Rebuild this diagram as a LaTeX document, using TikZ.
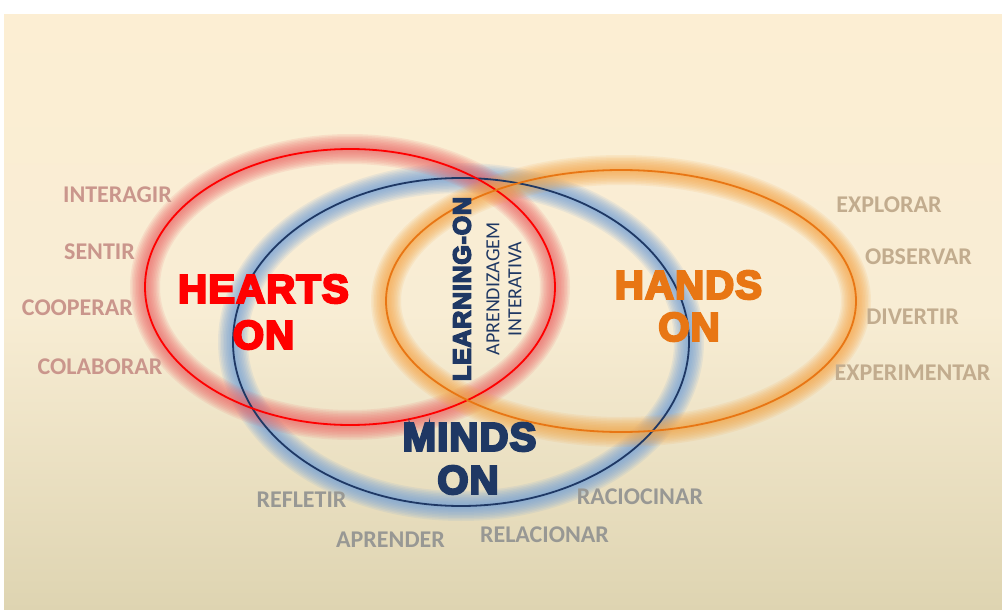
\documentclass[tikz,border=0pt]{standalone}
\usepackage{fontspec}
\setmainfont{Carlito}
\newfontfamily\heavy[FakeBold=6, LetterSpace=3]{Liberation Sans Bold}
\usetikzlibrary{calc}

\definecolor{bgtop}{RGB}{252,238,211}
\definecolor{bgmid}{RGB}{248,237,212}
\definecolor{bgbot}{RGB}{222,212,177}
\definecolor{heartred}{RGB}{255,0,0}
\definecolor{heartglow}{RGB}{236,100,100}
\definecolor{handorange}{RGB}{232,118,20}
\definecolor{handglow}{RGB}{245,165,70}
\definecolor{mindnavy}{RGB}{31,56,100}
\definecolor{mindglow}{RGB}{110,158,218}
\definecolor{wordrose}{RGB}{202,150,140}
\definecolor{wordtan}{RGB}{194,172,142}
\definecolor{wordgray}{RGB}{152,152,148}

\tikzset{
  bigword/.style={inner sep=0pt, font=\heavy\fontsize{40}{40}\selectfont},
  sideword/.style={inner sep=0pt, font=\bfseries\fontsize{24}{24}\selectfont},
  leftword/.style={sideword, text=wordrose},
  rightword/.style={sideword, text=wordtan},
  bottomword/.style={sideword, text=wordgray},
}

% soft halo around an ellipse: stacked translucent strokes
\newcommand{\halo}[4]{% centre, x radius, y radius, colour
  \foreach \w in {3,6,9,12,15,18,21,24,27,30}{
    \draw[#4, line width=\w pt, opacity=0.12] #1 ellipse [x radius=#2, y radius=#3];
  }
}

\begin{document}
\begin{tikzpicture}[x=1pt,y=-1pt]
\useasboundingbox (0,0) rectangle (1002,610);
\fill[white] (0,0) rectangle (1002,610);
\shade[top color=bgtop, bottom color=bgbot, middle color=bgmid] (4,15) rectangle (1002,610);

% halos
\halo{(461,342)}{228pt}{164pt}{mindglow}
\halo{(350,287)}{205pt}{138pt}{heartglow}
\halo{(621,301)}{235pt}{131pt}{handglow}

% outlines
\draw[mindnavy, line width=1.8pt] (461,342) ellipse [x radius=228pt, y radius=164pt];
\draw[heartred, line width=1.8pt] (350,287) ellipse [x radius=205pt, y radius=138pt];
\draw[handorange, line width=1.8pt] (621,301) ellipse [x radius=235pt, y radius=131pt];

% main labels
\node[bigword, text=heartred] (hearts) at (263.5,289) {HEARTS};
\node[bigword, text=heartred] (heartson) at (263.5,335) {ON};
\node[bigword, text=handorange] (hands) at (688.5,285) {HANDS};
\node[bigword, text=handorange] (handson) at (689,327) {ON};
\node[bigword, text=mindnavy] (minds) at (469.5,437) {MINDS};
\node[bigword, text=mindnavy] (mindson) at (468,480) {ON};

% centre
\node[inner sep=0pt, rotate=90, text=mindnavy, font=\heavy\fontsize{25}{25}\selectfont] (learning) at (462,289) {LEARNING-ON};
\node[inner sep=0pt, rotate=90, text=mindnavy, font=\fontsize{20}{20}\selectfont] (aprend) at (493,289) {APRENDIZAGEM};
\node[inner sep=0pt, rotate=90, text=mindnavy, font=\fontsize{20}{20}\selectfont] (interat) at (515,289) {INTERATIVA};

% hearts words
\node[leftword] (interagir) at (117.5,195) {INTERAGIR};
\node[leftword] (sentir) at (99.5,252) {SENTIR};
\node[leftword] (cooperar) at (77.5,308) {COOPERAR};
\node[leftword] (colaborar) at (100,367) {COLABORAR};

% hands words
\node[rightword] (explorar) at (889,205) {EXPLORAR};
\node[rightword] (observar) at (918.5,257) {OBSERVAR};
\node[rightword] (divertir) at (912.5,317) {DIVERTIR};
\node[rightword] (experimentar) at (912.5,373) {EXPERIMENTAR};

% minds words
\node[bottomword] (refletir) at (301.5,500) {REFLETIR};
\node[bottomword] (raciocinar) at (640,497) {RACIOCINAR};
\node[bottomword] (aprender) at (390.5,540) {APRENDER};
\node[bottomword] (relacionar) at (544.5,535) {RELACIONAR};
\end{tikzpicture}
\end{document}
